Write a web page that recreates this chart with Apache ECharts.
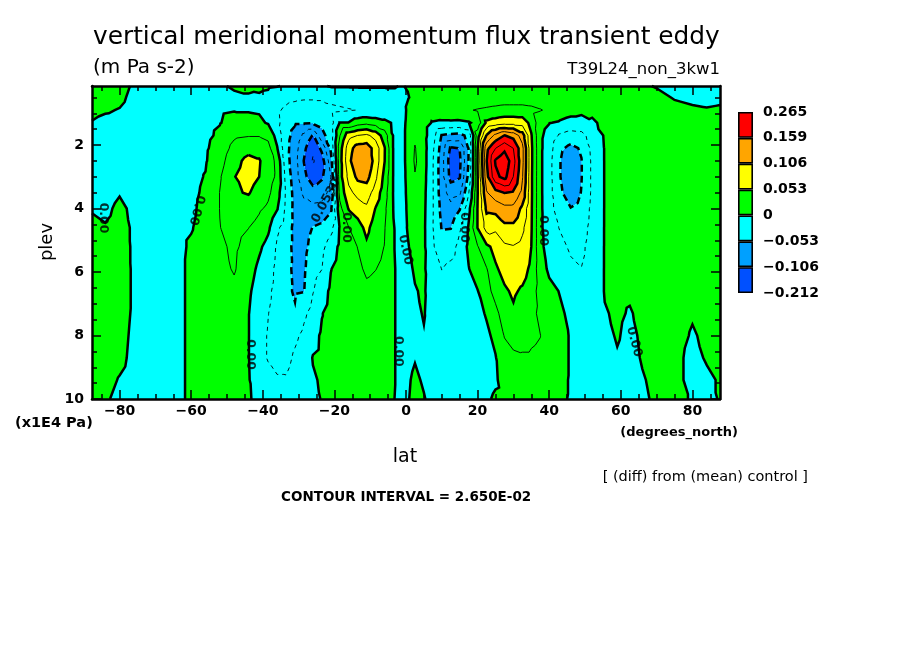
<!DOCTYPE html>
<html>
<head>
<meta charset="utf-8">
<title>vertical meridional momentum flux transient eddy</title>
<script src="https://cdn.jsdelivr.net/npm/echarts@6/dist/echarts.min.js"></script>
<style>
  html, body { margin: 0; padding: 0; background: #ffffff; }
  #chart { width: 904px; height: 654px; }
</style>
</head>
<body>
<div id="chart"></div>
<script>
// grid columns (degrees_north)
var lats = [-87.7, -84, -80, -76, -72, -68, -64, -60, -56, -52, -48, -44,
    -41, -38.5, -36, -33.5, -31, -28.5, -26, -23.5, -21, -18.5, -16, -13.5, -11, -8.5, -6, -3.5, -1.5,
    0.5, 2.5, 5, 7.5, 10, 12.5, 15, 17.5, 20, 22.5, 25, 27.5, 30, 32.5, 35, 37.5, 40,
    43, 46, 49, 52, 55.5, 59, 62.5, 66, 70, 75, 80, 84, 87.7];

// grid rows (plev, x1E4 Pa)
var plevs = [0.14, 0.5, 0.9, 1.3, 1.7, 2.1, 2.5, 3.0, 3.5, 4.0, 4.6, 5.2, 5.9, 6.6, 7.3, 8.0, 8.7, 9.4, 10.0];

// flux, one row per latitude, top to bottom, in 1E-3 m Pa s-2
var fluxMilli = [
    [15, 10, 5, -1, -6, -9, -10, -8, -5, -1, 3, 6, 8, 10, 12, 12, 12, 10, 8],
    [12, 8, 2, -5, -9, -11, -11, -9, -6, -3, 1, 5, 7, 9, 10, 10, 8, 5, 2],
    [8, 5, -1, -6, -10, -11, -10, -6, -1, 3, 5, 6, 7, 7, 6, 5, 4, -1, -4],
    [-3, -6, -9, -11, -12, -12, -11, -8, -5, -3, -2, -2, -2, -2, -2, -3, -4, -6, -7],
    [-3, -6, -9, -11, -12, -12, -11, -9, -7, -6, -6, -6, -6, -6, -6, -7, -8, -8, -8],
    [-3, -6, -9, -11, -12, -12, -12, -10, -8, -7, -7, -7, -7, -7, -7, -7, -8, -8, -8],
    [-2, -5, -8, -10, -11, -10, -9, -8, -6, -5, -4, -4, -4, -4, -4, -4, -4, -4, -4],
    [-2, -4, -7, -8, -8, -7, -6, -5, -4, -3, -1, 2, 3, 3, 3, 3, 3, 3, 3],
    [-2, -4, -6, -6, -5, -3, -2, 1, 3, 5, 6, 7, 7, 6, 5, 4, 4, 4, 4],
    [-2, -4, -3, -1, 4, 10, 16, 24, 27, 27, 26, 22, 18, 14, 11, 9, 8, 7, 6],
    [2, -3, -1, 8, 22, 35, 45, 52, 50, 42, 35, 31, 29, 20, 14, 10, 8, 7, 6],
    [2, -1, -1, 5, 25, 45, 60, 64, 55, 40, 27, 18, 10, 4, 1, 1, 1, 2, 3],
    [3, -2, -2, 4, 25, 45, 55, 53, 42, 30, 18, 4, -5, -11, -15, -19, -20, -16, -8],
    [2, -4, -8, -2, 20, 35, 40, 38, 32, 22, 5, -8, -16, -22, -26, -28, -28, -20, -12],
    [1, -12, -22, -20, -10, 2, 20, 22, 12, 2, -22, -30, -33, -34, -35, -36, -34, -24, -14],
    [-2, -18, -32, -40, -44, -45, -42, -35, -30, -32, -38, -43, -46, -47, -46, -42, -35, -24, -14],
    [-3, -20, -40, -50, -62, -68, -70, -68, -64, -62, -61, -60, -58, -56, -50, -32, -22, -14, -9],
    [-3, -22, -45, -50, -85, -100, -107, -100, -85, -70, -64, -60, -57, -54, -32, -20, -12, -8, -6],
    [-3, -22, -45, -52, -108, -128, -135, -120, -95, -72, -52, -44, -36, -28, -16, -7, 1, -2, -5],
    [-3, -22, -40, -48, -60, -100, -118, -110, -90, -70, -48, -33, -27, -12, -1, 3, 4, 2, 1],
    [2, -20, -32, -38, -42, -48, -65, -80, -72, -58, -35, -15, -1, 5, 8, 8, 7, 5, 3],
    [2, -18, -30, 1, 25, 40, 42, 42, 35, 18, 2, 5, 10, 14, 16, 16, 14, 10, 6],
    [2, -16, -28, 1, 70, 95, 100, 88, 72, 55, 26, 18, 18, 20, 21, 20, 17, 12, 8],
    [2, -14, -26, 15, 80, 118, 125, 112, 88, 65, 42, 27, 22, 20, 19, 18, 16, 12, 8],
    [2, -12, -25, 20, 85, 120, 128, 115, 92, 75, 60, 48, 30, 22, 20, 18, 16, 12, 8],
    [2, -12, -24, 15, 70, 95, 95, 85, 68, 52, 40, 33, 27, 20, 18, 17, 15, 12, 8],
    [2, -12, -22, 8, 40, 55, 54, 45, 38, 32, 28, 26, 22, 16, 14, 13, 12, 10, 8],
    [2, -8, -15, -3, -2, -2, -2, -2, -2, -1, 1, 1, 2, 2, 2, 2, 2, 2, 1],
    [-1, -8, -10, -8, -8, -8, -8, -8, -8, -8, -7, -6, -6, -6, -6, -6, -6, -6, -6],
    [1, -1, 3, 4, 5, 5, 5, 4, 3, 2, 1, -1, -4, -5, -6, -6, -5, -2, -1],
    [3, 4, 10, 15, 22, 28, 30, 25, 18, 12, 8, 5, 2, -1, -3, -4, -1, 3, 4],
    [4, 6, 12, 8, 8, 10, 10, 8, 6, 5, 4, 4, 3, 2, 1, -1, -3, -2, 1],
    [5, 10, 18, -2, -15, -22, -25, -25, -25, -25, -26, -24, -15, -10, -8, -7, -6, -6, -5],
    [4, 10, 20, -5, -55, -65, -70, -70, -68, -62, -55, -40, -27, -18, -12, -9, -7, -6, -5],
    [4, 10, 22, -5, -60, -110, -120, -115, -90, -72, -54, -38, -20, -14, -10, -8, -7, -6, -5],
    [4, 10, 24, -6, -62, -105, -112, -108, -85, -55, -30, -18, -12, -8, -6, -5, -4, -4, -4],
    [3, 10, 25, -3, -45, -52, -52, -45, -28, -8, 3, 5, -1, -8, -10, -10, -8, -6, -5],
    [3, 12, 28, 10, 40, 52, 54, 52, 52, 54, 54, 25, 14, -1, -6, -8, -8, -7, -4],
    [4, 14, 30, 58, 108, 150, 158, 150, 130, 112, 90, 48, 25, 18, 2, -4, -5, -5, -2],
    [5, 15, 32, 65, 140, 185, 215, 205, 150, 115, 85, 60, 50, 35, 20, 5, -1, -2, 2],
    [5, 16, 34, 70, 160, 205, 232, 220, 160, 125, 100, 75, 60, 50, 38, 28, 14, 6, 3],
    [5, 16, 34, 70, 150, 185, 195, 185, 155, 125, 100, 78, 65, 56, 50, 35, 22, 10, 6],
    [5, 16, 34, 68, 120, 140, 140, 135, 125, 100, 85, 72, 62, 50, 42, 34, 24, 10, 5],
    [5, 15, 32, 45, 55, 58, 58, 57, 57, 56, 55, 53, 48, 40, 35, 30, 24, 12, 5],
    [5, 14, 28, 10, 5, 5, 5, 5, 5, 5, 5, 6, 10, 15, 20, 27, 22, 12, 6],
    [5, 12, 22, 1, -10, -15, -18, -18, -18, -17, -15, -10, -4, 6, 10, 12, 12, 10, 6],
    [5, 10, 12, -3, -30, -48, -52, -52, -48, -40, -28, -20, -10, -1, 3, 4, 4, 3, 2],
    [4, 8, 8, -8, -38, -60, -70, -72, -68, -52, -40, -30, -22, -10, -4, -1, -1, -1, -1],
    [3, 6, 5, -8, -35, -50, -54, -54, -52, -45, -38, -32, -26, -18, -14, -12, -10, -9, -8],
    [2, 5, 3, -2, -15, -20, -22, -22, -22, -20, -18, -16, -15, -14, -13, -12, -10, -9, -8],
    [2, 4, 4, 3, 2, 1, 1, 1, 1, 1, 1, 1, 1, 1, -1, -3, -5, -6, -6],
    [3, 5, 6, 5, 4, 3, 3, 3, 3, 3, 3, 3, 3, 3, 2, 1, -1, -3, -3],
    [3, 5, 6, 5, 4, 4, 4, 4, 4, 4, 4, 3, 3, 2, -1, -3, -4, -4, -4],
    [2, 4, 5, 5, 5, 5, 5, 5, 5, 5, 5, 4, 4, 4, 3, 2, 1, -1, -2],
    [-1, 4, 5, 5, 5, 5, 5, 5, 5, 5, 5, 5, 5, 5, 4, 4, 3, 3, 2],
    [-4, -1, 4, 5, 5, 5, 5, 5, 5, 5, 5, 5, 5, 5, 5, 4, 3, 3, 3],
    [-5, -3, 2, 5, 5, 5, 5, 5, 5, 5, 5, 5, 5, 4, 1, -1, -3, -3, -1],
    [-6, -4, 1, 4, 5, 5, 5, 5, 5, 5, 5, 5, 5, 4, 3, 2, 1, -2, -4],
    [-6, -3, 2, 4, 5, 5, 5, 5, 5, 5, 5, 5, 5, 5, 5, 4, 3, 1, 1]
];

// colour bands (milli units) and colour bar labels
var bandBreaks = [-106, -53, 0, 53, 106, 159];
var bandColors = ['#0050ff', '#00a0ff', '#00ffff', '#00ff00', '#ffff00', '#ffa500', '#ff0000'];
var cbLabels = ['−0.212', '−0.106', '−0.053', '0', '0.053', '0.106', '0.159', '0.265'];
var contourStep = 26.5;

// axis ticks
var latTicks = [-80, -60, -40, -20, 0, 20, 40, 60, 80];
var latMinor = [-85, -75, -70, -65, -55, -50, -45, -35, -30, -25, -15, -10, -5,
    5, 10, 15, 25, 30, 35, 45, 50, 55, 65, 70, 75, 85];
var plevTicks = [2, 4, 6, 8, 10];
var plevMinor = [0.5, 1, 1.5, 2.5, 3, 3.5, 4.5, 5, 5.5, 6.5, 7, 7.5, 8.5, 9, 9.5];

// contour labels: lat, plev, text, rotation
var labelSpots = [
    [-84.5, 4.3, '0.00', -90],
    [-58.5, 4.05, '0.00', -105],
    [-22.3, 3.75, '0.0530', 62],
    [-16.6, 4.6, '0.00', -90],
    [-0.2, 5.3, '0.00', -78],
    [16.3, 4.6, '0.00', -90],
    [38.3, 4.7, '0.00', -90],
    [-43.4, 8.6, '0.00', -90],
    [-2.2, 8.5, '0.00', -90],
    [63.7, 8.2, '0.00', -75]
];

var FONT = '"DejaVu Sans", "Liberation Sans", sans-serif';

function fmtSigned(v) {
    return v < 0 ? '−' + (-v) : String(v);
}

// clip a linear-valued polygon to v >= level (above) or v < level
function clipPoly(poly, level, above) {
    var out = [];
    for (var k = 0; k < poly.length; k++) {
        var p = poly[k], q = poly[(k + 1) % poly.length];
        var pin = above ? p[2] >= level : p[2] < level;
        var qin = above ? q[2] >= level : q[2] < level;
        if (pin) out.push(p);
        if (pin !== qin) {
            var t = (level - p[2]) / (q[2] - p[2]);
            out.push([p[0] + t * (q[0] - p[0]), p[1] + t * (q[1] - p[1]), level]);
        }
    }
    return out;
}

function renderField(params, api) {
    var nx = lats.length, ny = plevs.length;
    var pts = [], vals = [];
    for (var i = 0; i < nx; i++) {
        for (var j = 0; j < ny; j++) {
            pts.push(api.coord([lats[i], plevs[j]]));
            vals.push(fluxMilli[i][j]);
        }
    }
    var tris = [];
    for (var i = 0; i < nx - 1; i++) {
        for (var j = 0; j < ny - 1; j++) {
            var a = i * ny + j, b = (i + 1) * ny + j, c = (i + 1) * ny + j + 1, d = i * ny + j + 1;
            tris.push([a, b, c]);
            tris.push([a, c, d]);
        }
    }

    var children = [];

    // filled bands, one path per colour
    var paths = bandColors.map(function () { return []; });
    tris.forEach(function (t) {
        var tri = t.map(function (n) { return [pts[n][0], pts[n][1], vals[n]]; });
        for (var k = 0; k < bandColors.length; k++) {
            var poly = tri;
            if (k > 0) poly = clipPoly(poly, bandBreaks[k - 1], true);
            if (poly.length >= 3 && k < bandBreaks.length) poly = clipPoly(poly, bandBreaks[k], false);
            if (poly.length < 3) continue;
            var s = 'M' + poly[0][0].toFixed(2) + ' ' + poly[0][1].toFixed(2);
            for (var m = 1; m < poly.length; m++) s += 'L' + poly[m][0].toFixed(2) + ' ' + poly[m][1].toFixed(2);
            paths[k].push(s + 'Z');
        }
    });
    paths.forEach(function (p, k) {
        if (!p.length) return;
        children.push({
            type: 'path',
            shape: { pathData: p.join('') },
            style: { fill: bandColors[k], stroke: null }
        });
    });

    // contour lines, chained into polylines so the dashes run on
    for (var lv = -8; lv <= 9; lv++) {
        var level = lv * contourStep;
        var pmap = {}, segs = [];
        tris.forEach(function (t) {
            var cross = [];
            for (var e = 0; e < 3; e++) {
                var i0 = t[e], i1 = t[(e + 1) % 3];
                var v0 = vals[i0] - level, v1 = vals[i1] - level;
                if (v0 === 0) v0 = 1e-6;
                if (v1 === 0) v1 = 1e-6;
                if ((v0 > 0) !== (v1 > 0)) {
                    var key = Math.min(i0, i1) + '_' + Math.max(i0, i1);
                    if (!pmap[key]) {
                        var f = v0 / (v0 - v1);
                        pmap[key] = [pts[i0][0] + f * (pts[i1][0] - pts[i0][0]),
                                     pts[i0][1] + f * (pts[i1][1] - pts[i0][1])];
                    }
                    cross.push(key);
                }
            }
            if (cross.length === 2) segs.push(cross);
        });
        if (!segs.length) continue;
        var adj = {}, used = [];
        segs.forEach(function (s, n) {
            (adj[s[0]] = adj[s[0]] || []).push(n);
            (adj[s[1]] = adj[s[1]] || []).push(n);
        });
        var follow = function (startKey) {
            var line = [startKey], key = startKey;
            while (true) {
                var list = adj[key] || [], next = -1;
                for (var q = 0; q < list.length; q++) if (!used[list[q]]) { next = list[q]; break; }
                if (next < 0) break;
                used[next] = true;
                var s = segs[next];
                key = s[0] === key ? s[1] : s[0];
                line.push(key);
            }
            return line;
        };
        var lines = [];
        Object.keys(adj).forEach(function (key) {
            if (adj[key].length === 1 && !used[adj[key][0]]) lines.push(follow(key));
        });
        segs.forEach(function (s, n) {
            if (!used[n]) lines.push(follow(s[0]));
        });
        var thick = (lv % 2 === 0);
        var dash = level < 0 ? (thick ? [7, 4] : [4, 4]) : null;
        lines.forEach(function (line) {
            if (line.length < 2) return;
            children.push({
                type: 'polyline',
                shape: { points: line.map(function (k) { return pmap[k]; }) },
                style: { stroke: '#000', lineWidth: thick ? 2.5 : 0.9, fill: null, lineDash: dash }
            });
        });
    }

    return { type: 'group', children: children };
}

var chart = echarts.init(document.getElementById('chart'), null, { renderer: 'canvas' });

var blackLine = { show: true, onZero: false, lineStyle: { color: '#000', width: 2.5 } };
var noLine = { show: false, onZero: false };
var tickStyle = { color: '#000', width: 1.5 };

function latAxis(pos, ticks, len, showLine, labels) {
    return {
        gridIndex: 0, type: 'value', min: -87.7, max: 87.7, position: pos, z: 10,
        axisLine: showLine ? blackLine : noLine,
        axisTick: { show: true, inside: true, length: len, customValues: ticks, lineStyle: tickStyle },
        axisLabel: labels ? {
            show: true, customValues: ticks, formatter: fmtSigned, color: '#000',
            fontSize: 14, fontWeight: 'bold', fontFamily: FONT, margin: 5
        } : { show: false },
        splitLine: { show: false }
    };
}

function plevAxis(pos, ticks, len, showLine, labels) {
    return {
        gridIndex: 0, type: 'value', min: 0.14, max: 10, inverse: true, position: pos, z: 10,
        axisLine: showLine ? blackLine : noLine,
        axisTick: { show: true, inside: true, length: len, customValues: ticks, lineStyle: tickStyle },
        axisLabel: labels ? {
            show: true, customValues: ticks, color: '#000',
            fontSize: 14, fontWeight: 'bold', fontFamily: FONT, margin: 8
        } : { show: false },
        splitLine: { show: false }
    };
}

var cbSeries = bandColors.map(function (c) {
    return {
        type: 'bar', xAxisIndex: 4, yAxisIndex: 4, stack: 'cb', data: [1],
        barWidth: '100%', silent: true,
        itemStyle: { color: c, borderColor: '#000', borderWidth: 1.6 }
    };
});

var option = {
    backgroundColor: '#ffffff',
    animation: false,
    grid: [
        { left: 92, top: 86, width: 628, height: 313 },
        { left: 738, top: 112, width: 15, height: 181 }
    ],
    xAxis: [
        latAxis('bottom', latTicks, 9, true, true),
        latAxis('bottom', latMinor, 5, false, false),
        latAxis('top', latTicks, 9, true, false),
        latAxis('top', latMinor, 5, false, false),
        { gridIndex: 1, type: 'category', data: [''], show: false }
    ],
    yAxis: [
        plevAxis('left', plevTicks, 9, true, true),
        plevAxis('left', plevMinor, 5, false, false),
        plevAxis('right', plevTicks, 9, true, false),
        plevAxis('right', plevMinor, 5, false, false),
        {
            gridIndex: 1, type: 'value', min: 0, max: 7, position: 'right',
            axisLine: { show: false }, axisTick: { show: false }, splitLine: { show: false },
            axisLabel: {
                show: true, customValues: [0, 1, 2, 3, 4, 5, 6, 7],
                formatter: function (v) { return cbLabels[v]; },
                color: '#000', fontSize: 14, fontWeight: 'bold', fontFamily: FONT, margin: 10
            }
        }
    ],
    series: [
        {
            type: 'custom', xAxisIndex: 0, yAxisIndex: 0, silent: true, z: 1,
            data: [[lats[0], plevs[0]]],
            renderItem: renderField
        },
        {
            type: 'scatter', xAxisIndex: 0, yAxisIndex: 0, silent: true, z: 3,
            symbolSize: 0,
            data: labelSpots.map(function (s) {
                return { value: [s[0], s[1]], name: s[2], label: { rotate: s[3] } };
            }),
            label: {
                show: true, position: 'inside', formatter: '{b}',
                color: '#000', fontSize: 12.5, fontWeight: 'bold', fontFamily: FONT
            }
        }
    ].concat(cbSeries),
    graphic: [
        { type: 'text', x: 93, y: 38, style: { text: 'vertical meridional momentum flux transient eddy', font: '24.8px ' + FONT, fill: '#000', textAlign: 'left', textVerticalAlign: 'middle' } },
        { type: 'text', x: 93, y: 68, style: { text: '(m Pa s-2)', font: '20px ' + FONT, fill: '#000', textAlign: 'left', textVerticalAlign: 'middle' } },
        { type: 'text', x: 720, y: 70, style: { text: 'T39L24_non_3kw1', font: '16.5px ' + FONT, fill: '#000', textAlign: 'right', textVerticalAlign: 'middle' } },
        { type: 'text', x: 47, y: 242, rotation: Math.PI / 2, style: { text: 'plev', font: '18px ' + FONT, fill: '#000', textAlign: 'center', textVerticalAlign: 'middle' } },
        { type: 'text', x: 15, y: 423, style: { text: '(x1E4 Pa)', font: 'bold 14.5px ' + FONT, fill: '#000', textAlign: 'left', textVerticalAlign: 'middle' } },
        { type: 'text', x: 405, y: 457, style: { text: 'lat', font: '19px ' + FONT, fill: '#000', textAlign: 'center', textVerticalAlign: 'middle' } },
        { type: 'text', x: 738, y: 433, style: { text: '(degrees_north)', font: 'bold 13px ' + FONT, fill: '#000', textAlign: 'right', textVerticalAlign: 'middle' } },
        { type: 'text', x: 808, y: 477, style: { text: '[ (diff) from (mean) control ]', font: '14.5px ' + FONT, fill: '#000', textAlign: 'right', textVerticalAlign: 'middle' } },
        { type: 'text', x: 281, y: 497, style: { text: 'CONTOUR INTERVAL = 2.650E-02', font: 'bold 13.5px ' + FONT, fill: '#000', textAlign: 'left', textVerticalAlign: 'middle' } }
    ]
};

chart.setOption(option);
</script>
</body>
</html>
